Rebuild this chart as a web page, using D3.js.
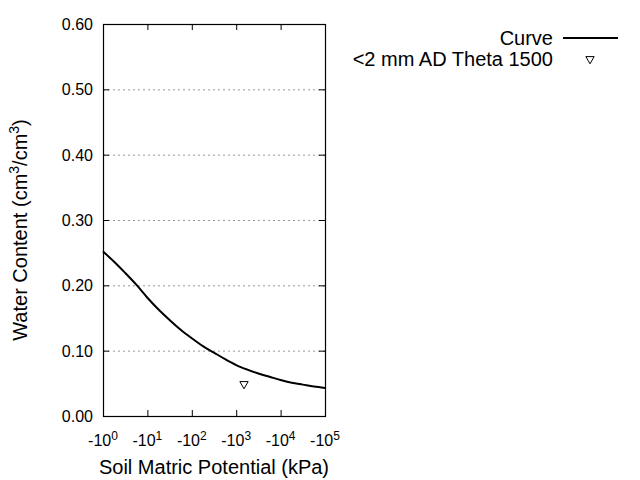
<!DOCTYPE html>
<html>
<head>
<meta charset="utf-8">
<script src="https://cdn.jsdelivr.net/npm/d3@7"></script>
<style>
  body { margin: 0; background: #fff; }
  text { font-family: "Liberation Sans", Arial, sans-serif; fill: #000; }
</style>
</head>
<body>
<svg id="chart" width="640" height="480"></svg>
<script>
// ===================================================================
// data

// matric potential magnitude (kPa), plotted as negative values
const curvePotential = [1, 1.78, 3.16, 5.62, 10, 17.8, 31.6, 56.2, 100, 178, 316, 562,
  1000, 1780, 3160, 5620, 10000, 17800, 31600, 56200, 100000]
const curveTheta = [0.252, 0.236, 0.219, 0.201, 0.181, 0.163, 0.147, 0.132, 0.119, 0.107, 0.097, 0.087,
  0.078, 0.071, 0.065, 0.060, 0.055, 0.051, 0.048, 0.045, 0.043]

const pointPotential = [1500]
const pointTheta = [0.049]

const xTickExps = [0, 1, 2, 3, 4, 5]
const yTicks = [0, 0.1, 0.2, 0.3, 0.4, 0.5, 0.6]

const legendLabels = ['Curve', '<2 mm AD Theta 1500']

// ===================================================================

const LEFT = 103
const RIGHT = 325
const TOP = 24
const BOTTOM = 416

const svg = d3.select('#chart')

const x = d3.scaleLog().domain([1, 1e5]).range([LEFT, RIGHT])
const y = d3.scaleLinear().domain([0, 0.6]).range([BOTTOM, TOP])

// grid
svg.append('g')
  .selectAll('line')
  .data(yTicks.filter(d => d > 0 && d < 0.6))
  .join('line')
    .attr('x1', LEFT)
    .attr('x2', RIGHT)
    .attr('y1', d => y(d) + 0.5)
    .attr('y2', d => y(d) + 0.5)
    .attr('stroke', '#999')
    .attr('stroke-dasharray', '2,3')

// ticks on all four sides, pointing in
const xTickVals = xTickExps.map(e => Math.pow(10, e))
const xAxisBottom = svg.append('g')
  .attr('transform', `translate(0, ${BOTTOM})`)
  .call(d3.axisBottom(x).tickValues(xTickVals).tickSize(-6).tickFormat(''))
const xAxisTop = svg.append('g')
  .attr('transform', `translate(0, ${TOP})`)
  .call(d3.axisTop(x).tickValues(xTickVals).tickSize(-6).tickFormat(''))
const yAxisLeft = svg.append('g')
  .attr('transform', `translate(${LEFT}, 0)`)
  .call(d3.axisLeft(y).tickValues(yTicks).tickSize(-6).tickFormat(''))
const yAxisRight = svg.append('g')
  .attr('transform', `translate(${RIGHT}, 0)`)
  .call(d3.axisRight(y).tickValues(yTicks).tickSize(-6).tickFormat(''))

for (const ax of [xAxisBottom, xAxisTop, yAxisLeft, yAxisRight]) {
  ax.select('.domain').remove()
  ax.selectAll('line').attr('stroke', '#000')
}

// frame
svg.append('rect')
  .attr('x', LEFT + 0.5)
  .attr('y', TOP + 0.5)
  .attr('width', RIGHT - LEFT)
  .attr('height', BOTTOM - TOP)
  .attr('fill', 'none')
  .attr('stroke', '#000')
  .attr('stroke-width', 1.2)

// y tick labels
svg.append('g')
  .selectAll('text')
  .data(yTicks)
  .join('text')
    .attr('x', LEFT - 10)
    .attr('y', d => y(d) + 6)
    .attr('text-anchor', 'end')
    .attr('font-size', 16)
    .text(d => d.toFixed(2))

// x tick labels: -10^n
const xl = svg.append('g')
  .selectAll('text')
  .data(xTickExps)
  .join('text')
    .attr('x', d => x(Math.pow(10, d)))
    .attr('y', 446)
    .attr('text-anchor', 'middle')
    .attr('font-size', 16)
xl.append('tspan').text('-10')
xl.append('tspan').attr('dy', -6).attr('font-size', 12).text(d => d)

// curve
const data = curvePotential.map((p, i) => ({ p, t: curveTheta[i] }))
const line = d3.line()
  .x(d => x(d.p))
  .y(d => y(d.t))
  .curve(d3.curveMonotoneX)

svg.append('path')
  .datum(data)
  .attr('d', line)
  .attr('fill', 'none')
  .attr('stroke', '#000')
  .attr('stroke-width', 2)

// measured point
const tri = d3.symbol().type(d3.symbolTriangle).size(30)
svg.append('g')
  .selectAll('path')
  .data(pointPotential.map((p, i) => ({ p, t: pointTheta[i] })))
  .join('path')
    .attr('transform', d => `translate(${x(d.p)}, ${y(d.t)}) rotate(180)`)
    .attr('d', tri)
    .attr('fill', 'none')
    .attr('stroke', '#000')
    .attr('stroke-width', 1)

// axis titles
svg.append('text')
  .attr('x', (LEFT + RIGHT) / 2)
  .attr('y', 474)
  .attr('text-anchor', 'middle')
  .attr('font-size', 20)
  .text('Soil Matric Potential (kPa)')

const yt = svg.append('text')
  .attr('transform', `translate(27, ${(TOP + BOTTOM) / 2 + 10}) rotate(-90)`)
  .attr('text-anchor', 'middle')
  .attr('font-size', 20)
yt.append('tspan').text('Water Content (cm')
yt.append('tspan').attr('dy', -8).attr('font-size', 14).text('3')
yt.append('tspan').attr('dy', 8).text('/cm')
yt.append('tspan').attr('dy', -8).attr('font-size', 14).text('3')
yt.append('tspan').attr('dy', 8).text(')')

// legend
const legend = svg.append('g')
legend.selectAll('text')
  .data(legendLabels)
  .join('text')
    .attr('x', 553)
    .attr('y', (d, i) => 45 + i * 21)
    .attr('text-anchor', 'end')
    .attr('font-size', 20)
    .text(d => d)
legend.append('line')
  .attr('x1', 563).attr('x2', 618)
  .attr('y1', 38).attr('y2', 38)
  .attr('stroke', '#000')
  .attr('stroke-width', 2)
legend.append('path')
  .attr('transform', 'translate(590, 59) rotate(180)')
  .attr('d', tri)
  .attr('fill', 'none')
  .attr('stroke', '#000')
  .attr('stroke-width', 1)
</script>
</body>
</html>
